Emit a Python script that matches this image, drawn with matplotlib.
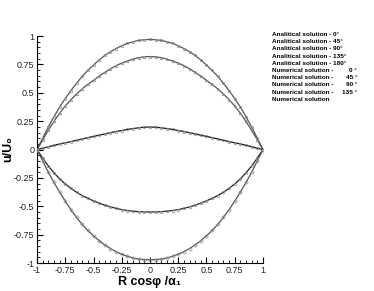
import matplotlib
matplotlib.use("Agg")
import matplotlib.pyplot as plt
import numpy as np
from matplotlib.ticker import MultipleLocator, FuncFormatter

plt.rcParams['font.family'] = ['Liberation Sans', 'DejaVu Sans']
plt.rcParams['axes.unicode_minus'] = False

# abscissa R cos(phi)/alpha_1, step 0.05
x = np.array([-1.0, -0.95, -0.9, -0.85, -0.8, -0.75, -0.7, -0.65, -0.6, -0.55, -0.5,
              -0.45, -0.4, -0.35, -0.3, -0.25, -0.2, -0.15, -0.1, -0.05, 0.0,
              0.05, 0.1, 0.15, 0.2, 0.25, 0.3, 0.35, 0.4, 0.45, 0.5,
              0.55, 0.6, 0.65, 0.7, 0.75, 0.8, 0.85, 0.9, 0.95, 1.0])

u_0 = [0, 0.10, 0.2, 0.29, 0.375, 0.45, 0.52, 0.585, 0.645, 0.698, 0.745,
       0.79, 0.83, 0.862, 0.89, 0.915, 0.935, 0.95, 0.962, 0.968, 0.97,
       0.968, 0.962, 0.95, 0.935, 0.915, 0.89, 0.862, 0.83, 0.79, 0.745,
       0.698, 0.645, 0.585, 0.52, 0.45, 0.375, 0.29, 0.2, 0.10, 0]
u_45 = [0, 0.087, 0.17, 0.248, 0.32, 0.385, 0.44, 0.49, 0.535, 0.575, 0.61,
        0.647, 0.68, 0.712, 0.74, 0.762, 0.78, 0.797, 0.81, 0.817, 0.82,
        0.817, 0.81, 0.797, 0.78, 0.762, 0.74, 0.712, 0.68, 0.647, 0.61,
        0.575, 0.535, 0.49, 0.44, 0.385, 0.32, 0.248, 0.17, 0.087, 0]
u_90 = [0, 0.012, 0.025, 0.037, 0.05, 0.06, 0.07, 0.082, 0.094, 0.105, 0.116,
        0.127, 0.138, 0.149, 0.159, 0.168, 0.177, 0.185, 0.192, 0.197, 0.199,
        0.197, 0.192, 0.185, 0.177, 0.168, 0.159, 0.149, 0.138, 0.127, 0.116,
        0.105, 0.094, 0.082, 0.07, 0.06, 0.05, 0.037, 0.025, 0.012, 0]
u_135 = [0, -0.075, -0.145, -0.205, -0.258, -0.303, -0.342, -0.376, -0.405, -0.43, -0.452,
         -0.472, -0.49, -0.505, -0.518, -0.529, -0.537, -0.543, -0.547, -0.549, -0.55,
         -0.549, -0.547, -0.543, -0.537, -0.529, -0.518, -0.505, -0.49, -0.472, -0.452,
         -0.43, -0.405, -0.376, -0.342, -0.303, -0.258, -0.205, -0.145, -0.075, 0]
u_180 = [0, -0.1, -0.2, -0.29, -0.375, -0.455, -0.53, -0.598, -0.66, -0.713, -0.76,
         -0.803, -0.84, -0.872, -0.9, -0.922, -0.94, -0.955, -0.965, -0.969, -0.97,
         -0.969, -0.965, -0.955, -0.94, -0.922, -0.9, -0.872, -0.84, -0.803, -0.76,
         -0.713, -0.66, -0.598, -0.53, -0.455, -0.375, -0.29, -0.2, -0.1, 0]

series = [u_0, u_45, u_90, u_135, u_180]
markers = ['s', '^', 'o', 'o', 'D']
line_colors = ['#555555', '#555555', '#111111', '#222222', '#555555']
legend_lines = [("Analitical solution - 0°", ""),
                ("Analitical solution - 45°", ""),
                ("Analitical solution - 90°", ""),
                ("Analitical solution - 135°", ""),
                ("Analitical solution - 180°", ""),
                ("Numerical solution -", "0 °"),
                ("Numerical solution -", "45 °"),
                ("Numerical solution -", "90 °"),
                ("Numerical solution -", "135 °"),
                ("Numerical solution", "")]

fig = plt.figure(figsize=(3.74, 2.91), dpi=100)
ax = fig.add_axes([0.099, 0.096, 0.604, 0.78])

for u, m, c in zip(series, markers, line_colors):
    ax.plot(x, u, color=c, lw=0.9, zorder=2)
    ax.plot(x, u, ls='none', marker=m, ms=1.8, mfc='none', mec='#8c8c8c', mew=0.5, zorder=3)

ax.set_xlim(-1, 1)
ax.set_ylim(-1, 1)
ax.spines['top'].set_visible(False)
ax.spines['right'].set_visible(False)
ax.xaxis.set_major_locator(MultipleLocator(0.25))
ax.yaxis.set_major_locator(MultipleLocator(0.25))
ax.xaxis.set_minor_locator(MultipleLocator(0.05))
ax.yaxis.set_minor_locator(MultipleLocator(0.05))
fmt = FuncFormatter(lambda v, p: '%g' % round(v, 2) if abs(v) > 1e-9 else '0')
ax.xaxis.set_major_formatter(fmt)
ax.yaxis.set_major_formatter(fmt)
ax.tick_params(which='major', direction='in', length=4, width=0.8, labelsize=6.5, pad=2,
               labelcolor='#222222')
ax.tick_params(which='minor', direction='in', length=2, width=0.6)
ax.tick_params(top=False, right=False)

ax.set_xlabel('R cosφ /α₁', fontsize=9, fontweight='bold', labelpad=1)
ax.set_ylabel('u/U₀', fontsize=9, fontweight='bold')
ax.yaxis.set_label_coords(-0.1, 0.5)

for i, (lab, num) in enumerate(legend_lines):
    ypix = 34.5 + i * 7.2
    fig.text(272 / 374, 1 - ypix / 291, lab, fontsize=4.6, fontweight='bold', va='center', ha='left')
    if num:
        fig.text(357 / 374, 1 - ypix / 291, num, fontsize=4.6, fontweight='bold', va='center', ha='right')

fig.savefig('out.png', dpi=100)
